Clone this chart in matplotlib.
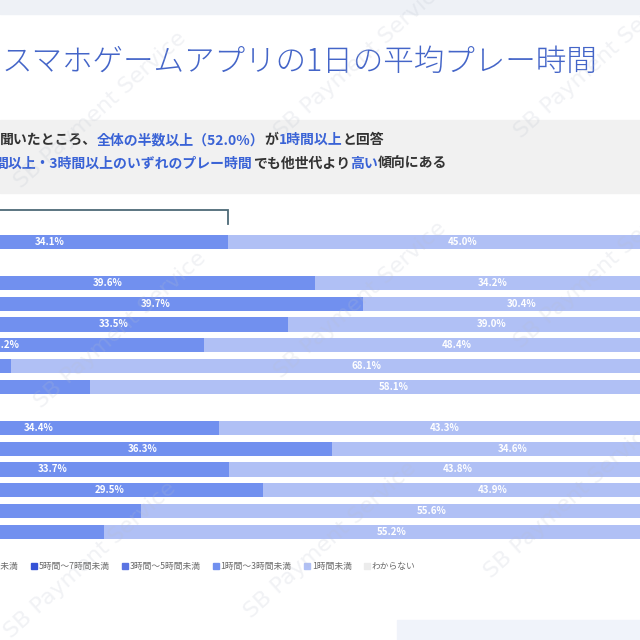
import matplotlib
matplotlib.use('Agg')
import matplotlib.pyplot as plt
from matplotlib.patches import Rectangle
from matplotlib.lines import Line2D

plt.rcParams['font.family'] = ['Noto Sans CJK JP', 'DejaVu Sans']

# データ（行: 全体 / 男性 / 女性、左側は画像外）
rows = ['全体',
        '男性10代', '男性20代', '男性30代', '男性40代', '男性50代', '男性60代',
        '女性10代', '女性20代', '女性30代', '女性40代', '女性50代', '女性60代']
groups = [1, 6, 6]

categories = ['10時間以上', '7時間～10時間未満', '5時間～7時間未満', '3時間～5時間未満',
              '1時間～3時間未満', '1時間未満', 'わからない']
h10_plus = [1.8, 2.5, 3.0, 2.6, 1.0, 0.6, 1.1, 1.7, 2.9, 1.9, 2.8, 1.0, 1.2]
h7_10 = [2.6, 3.1, 3.9, 3.5, 1.6, 0.9, 1.5, 2.4, 3.8, 2.6, 3.7, 1.7, 1.6]
h5_7 = [4.4, 5.0, 6.2, 6.0, 2.8, 1.8, 2.9, 4.1, 6.4, 4.5, 6.5, 3.0, 2.8]
h3_5 = [9.1, 10.1, 12.1, 12.2, 6.1, 3.9, 6.3, 8.5, 12.6, 9.4, 12.9, 6.5, 6.1]
h1_3 = [34.1, 39.6, 39.7, 33.5, 38.2, 24.0, 27.0, 34.4, 36.3, 33.7, 29.5, 31.5, 28.4]
lt1 = [45.0, 34.2, 30.4, 39.0, 48.4, 68.1, 58.1, 43.3, 34.6, 43.8, 43.9, 55.6, 55.2]
unknown = [3.0, 5.5, 4.7, 3.2, 1.9, 0.7, 3.1, 5.6, 3.4, 4.1, 0.7, 0.7, 4.7]
series = [h10_plus, h7_10, h5_7, h3_5, h1_3, lt1, unknown]

colors = ['#1c34a8', '#2640c0', '#3552d6', '#5a74e2', '#7190ef', '#b0c0f5', '#ececec']
blue = '#3a63d6'
dark = '#333333'

fig = plt.figure(figsize=(6.4, 6.4), dpi=100)
fig.patch.set_facecolor('white')

# 背景の帯
fig.patches.append(Rectangle((0, 1 - 14 / 640), 1, 14 / 640, transform=fig.transFigure,
                             color='#eef1f6', zorder=0))
fig.patches.append(Rectangle((0.62, 0), 0.38, 20 / 640, transform=fig.transFigure,
                             color='#f0f3fa', zorder=0))
fig.patches.append(Rectangle((0, 1 - 193 / 640), 1, 73 / 640, transform=fig.transFigure,
                             color='#f1f1f1', zorder=0))

# タイトル
fig.text(0.003, 1 - 62 / 640, 'スマホゲームアプリの1日の平均プレー時間', fontsize=22,
         color='#4465c8', fontweight='light', va='center', ha='left')

# サブテキスト（色分け）
renderer = fig.canvas.get_renderer()
lines = [
    (0.0, 140, [('聞いたところ、', dark), ('全体の半数以上（52.0%）', blue), ('が', dark),
                ('1時間以上', blue), ('と回答', dark)]),
    (-5.0, 164, [('間以上・3時間以上のいずれのプレー時間', blue), ('でも他世代より', dark),
                 ('高い', blue), ('傾向にある', dark)]),
]
for x_px, y_px, parts in lines:
    x = x_px / 640
    for s, c in parts:
        t = fig.text(x, 1 - y_px / 640, s, fontsize=10, color=c, fontweight='bold',
                     va='center', ha='left')
        x += t.get_window_extent(renderer).width / 640

# 帯グラフ
ax = fig.add_axes([0, 1 - 555 / 640, 1, 355 / 640])
ax.set_xlim(30.17, 91.47)
ax.set_ylim(15.13, -2.01)
ax.axis('off')

ypos = []
slot = 0
for g in groups:
    ypos.extend(range(slot, slot + g))
    slot += g + 1

left = [0.0] * len(rows)
x0, x1 = ax.get_xlim()
for k, vals in enumerate(series):
    ax.barh(ypos, vals, left=left, height=0.68, color=colors[k], edgecolor='none', zorder=2)
    if k < len(series) - 1:
        for y, l, v in zip(ypos, left, vals):
            c = l + v / 2
            if v >= 3 and x0 - 2 < c < x1 + 2:
                ax.text(c, y, f'{v:.1f}%', ha='center', va='center', fontsize=7,
                        color='white', fontweight='bold', zorder=3)
    left = [l + v for l, v in zip(left, vals)]

# 1時間以上の括弧
over1 = sum(s[0] for s in series[:5])
ax.plot([0, over1, over1], [-1.52, -1.52, -0.86], color='#4d6a77', lw=1.3,
        zorder=3, solid_joinstyle='miter')

# 凡例
handles = [Line2D([], [], marker='s', ls='', color=c, markersize=4.4) for c in colors]
fig.legend(handles, categories, ncol=7, loc='center left', bbox_to_anchor=(-0.215, 1 - 567 / 640),
           frameon=False, fontsize=6.3, handlelength=0.6, handletextpad=0.25,
           columnspacing=1.45, labelcolor='#6a6a6a')

# 透かし
for cx, cy in [(100, 110), (360, 60), (600, 60), (120, 330), (360, 300), (600, 270),
               (90, 560), (330, 540), (570, 500)]:
    fig.text(cx / 640, 1 - cy / 640, 'SB Payment Service', fontsize=16, rotation=42,
             color='#b8bfcc', alpha=0.2, ha='center', va='center', family='DejaVu Sans',
             zorder=10)

fig.savefig('out.png', dpi=100)
